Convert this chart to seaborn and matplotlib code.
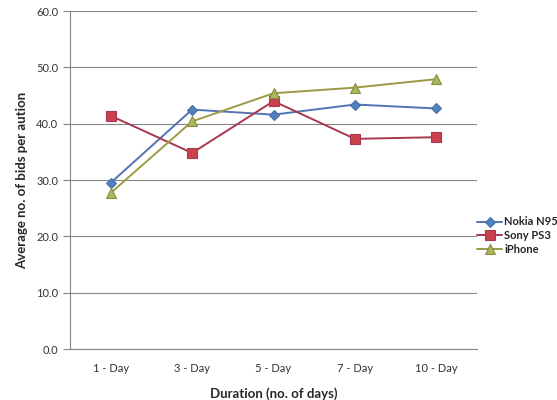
import pandas as pd
import matplotlib.pyplot as plt
import seaborn as sns

durations = ["1 - Day", "3 - Day", "5 - Day", "7 - Day", "10 - Day"]
nokia = [29.5, 42.5, 41.6, 43.4, 42.7]
sony = [41.4, 34.8, 44.0, 37.3, 37.6]
iphone = [27.7, 40.4, 45.4, 46.4, 47.9]

series = {"Nokia N95": nokia, "Sony PS3": sony, "iPhone": iphone}
rows = []
for name, vals in series.items():
    for i, v in enumerate(vals):
        rows.append({"pos": i, "value": v, "product": name})
df = pd.DataFrame(rows)

sns.set_style("white")
plt.rcParams["font.family"] = ["Lato", "DejaVu Sans"]

fig = plt.figure(figsize=(5.57, 4), dpi=100)
ax = fig.add_axes([70 / 557, 51 / 400, 407 / 557, 338 / 400])

palette = {"Nokia N95": "#5273B3", "Sony PS3": "#A8384F", "iPhone": "#9C9A45"}
face = {"Nokia N95": "#4F81BD", "Sony PS3": "#C8424B", "iPhone": "#A8B85A"}
edge = {"Nokia N95": "#4A6FA8", "Sony PS3": "#A8384F", "iPhone": "#8A8A40"}
markers = {"Nokia N95": "D", "Sony PS3": "s", "iPhone": "^"}
sizes = {"Nokia N95": 5, "Sony PS3": 7.5, "iPhone": 7.5}

for name in series:
    sub = df[df["product"] == name]
    sns.lineplot(data=sub, x="pos", y="value", ax=ax, color=palette[name],
                 marker=markers[name], markersize=sizes[name],
                 markerfacecolor=face[name], markeredgecolor=edge[name],
                 markeredgewidth=0.8, linewidth=1.4, label=name)

ax.set_xlim(-0.5, 4.5)
ax.set_ylim(0, 60)
ax.set_yticks(range(0, 61, 10))
ax.set_yticklabels([f"{v:.1f}" for v in range(0, 61, 10)])
ax.set_xticks(range(5))
ax.set_xticklabels(durations)
ax.set_xticks([i - 0.5 for i in range(6)], minor=True)
ax.tick_params(axis="x", which="major", length=0, pad=10, labelsize=8, colors="#333333")
ax.tick_params(axis="x", which="minor", length=5, width=0.8, color="#868686", direction="out")
ax.tick_params(axis="y", length=5, width=0.8, color="#868686", direction="out", labelsize=8,
               labelcolor="#333333", left=True)

ax.grid(axis="y", color="#868686", linewidth=0.8)
ax.set_axisbelow(True)
for side in ["top", "right"]:
    ax.spines[side].set_visible(False)
for side in ["left", "bottom"]:
    ax.spines[side].set_color("#868686")
    ax.spines[side].set_linewidth(0.8)

ax.set_xlabel("Duration (no. of days)", fontsize=9.5, fontweight="bold", labelpad=10)
ax.set_ylabel("Average no. of bids per aution", fontsize=9.5, fontweight="bold", labelpad=6)

leg = ax.legend(loc="center left", bbox_to_anchor=(0.99, 0.335), frameon=False, fontsize=8,
                handlelength=2.2, handletextpad=0.2, labelspacing=0.25, borderaxespad=0)
for t in leg.get_texts():
    t.set_fontweight("bold")

fig.savefig("out.png", dpi=100)
